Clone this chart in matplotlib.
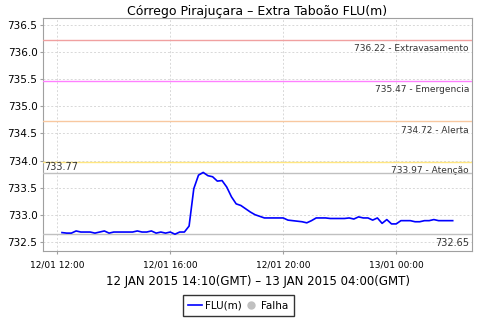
import matplotlib
matplotlib.use('Agg')
import matplotlib.pyplot as plt
import matplotlib.dates as mdates
import matplotlib.transforms as mtransforms
from matplotlib.lines import Line2D
import pandas as pd

# data: one reading every 10 minutes (local time)
start = '2015-01-12 12:10'
flu = [732.67, 732.66, 732.66, 732.70, 732.68, 732.68, 732.68, 732.66, 732.68, 732.70,
       732.66, 732.68, 732.68, 732.68, 732.68, 732.68, 732.70, 732.68, 732.68, 732.70,
       732.66, 732.68, 732.66, 732.68, 732.64, 732.68, 732.68, 732.79, 733.48, 733.73,
       733.78, 733.72, 733.70, 733.62, 733.63, 733.51, 733.33, 733.20, 733.17, 733.11,
       733.05, 733.00, 732.97, 732.94, 732.94, 732.94, 732.94, 732.94, 732.90, 732.89,
       732.88, 732.87, 732.85, 732.89, 732.94, 732.94, 732.94, 732.93, 732.93, 732.93,
       732.93, 732.94, 732.92, 732.96, 732.94, 732.94, 732.90, 732.94, 732.84, 732.91,
       732.83, 732.83, 732.89, 732.89, 732.89, 732.87, 732.87, 732.89, 732.89, 732.91,
       732.89, 732.89, 732.89, 732.89]
times = pd.date_range(start, periods=len(flu), freq='10min')

levels = [736.22, 735.47, 734.72, 733.97]
level_names = ['Extravasamento', 'Emergencia', 'Alerta', 'Atenção']
level_colors = ['#f0a0a0', '#ff80ff', '#f8c8a0', '#ffe680']
max_val = 733.77
min_val = 732.65

title = 'Córrego Pirajuçara – Extra Taboão FLU(m)'
xlabel = '12 JAN 2015 14:10(GMT) – 13 JAN 2015 04:00(GMT)'

fig = plt.figure(figsize=(4.8, 3.2), dpi=100)
ax = fig.add_axes([43/480, 1-251/320, 429/480, 233/320])

ax.plot(times, flu, color='#0000ff', lw=1.2, zorder=5)

trans = mtransforms.blended_transform_factory(ax.transAxes, ax.transData)
for v, n, c in zip(levels, level_names, level_colors):
    ax.axhline(v, color=c, lw=1, zorder=3)
    ax.annotate('%.2f - %s' % (v, n), xy=(0.993, v), xycoords=trans,
                xytext=(0, -3), textcoords='offset points',
                ha='right', va='top', fontsize=6.5, color='#333333')

ax.axhline(max_val, color='#c0c0c0', lw=1, zorder=3)
ax.annotate('%.2f' % max_val, xy=(0.002, max_val), xycoords=trans,
            xytext=(0, 1), textcoords='offset points',
            ha='left', va='bottom', fontsize=7, color='#333333')
ax.axhline(min_val, color='#c0c0c0', lw=1, zorder=3)
ax.annotate('%.2f' % min_val, xy=(0.993, min_val), xycoords=trans,
            xytext=(0, -3), textcoords='offset points',
            ha='right', va='top', fontsize=7, color='#333333')

ax.set_ylim(732.33, 736.63)
ax.set_yticks([732.5, 733.0, 733.5, 734.0, 734.5, 735.0, 735.5, 736.0, 736.5])
ax.yaxis.set_major_formatter(matplotlib.ticker.FormatStrFormatter('%.1f'))
ax.set_xlim(pd.Timestamp('2015-01-12 11:29:40'), pd.Timestamp('2015-01-13 02:41'))
ax.xaxis.set_major_locator(mdates.HourLocator(byhour=[0, 4, 8, 12, 16, 20]))
ax.xaxis.set_major_formatter(mdates.DateFormatter('%d/%m %H:%M'))

ax.grid(True, color='#d8d8d8', ls=(0, (2, 2)), lw=0.7)
for s in ax.spines.values():
    s.set_color('#a0a0a0')
    s.set_linewidth(0.8)
ax.tick_params(axis='y', labelsize=7.5, length=2, color='#a0a0a0', pad=2)
ax.tick_params(axis='x', labelsize=6.5, length=2, color='#a0a0a0', pad=5)

ax.set_title(title, fontsize=9, pad=2)
ax.set_xlabel(xlabel, fontsize=8.5, labelpad=4)

handles = [Line2D([], [], color='#0000ff', lw=1.2),
           Line2D([], [], ls='', marker='o', color='#c0c0c0', markersize=5)]
fig.legend(handles, ['FLU(m)', 'Falha'], loc='lower center', bbox_to_anchor=(0.496, 0.005),
           ncol=2, fontsize=7.5, frameon=True, fancybox=False, edgecolor='black',
           handlelength=1.3, handletextpad=0.3, columnspacing=0.2,
           borderpad=0.55, borderaxespad=0.2)

fig.savefig('out.png', dpi=100)
